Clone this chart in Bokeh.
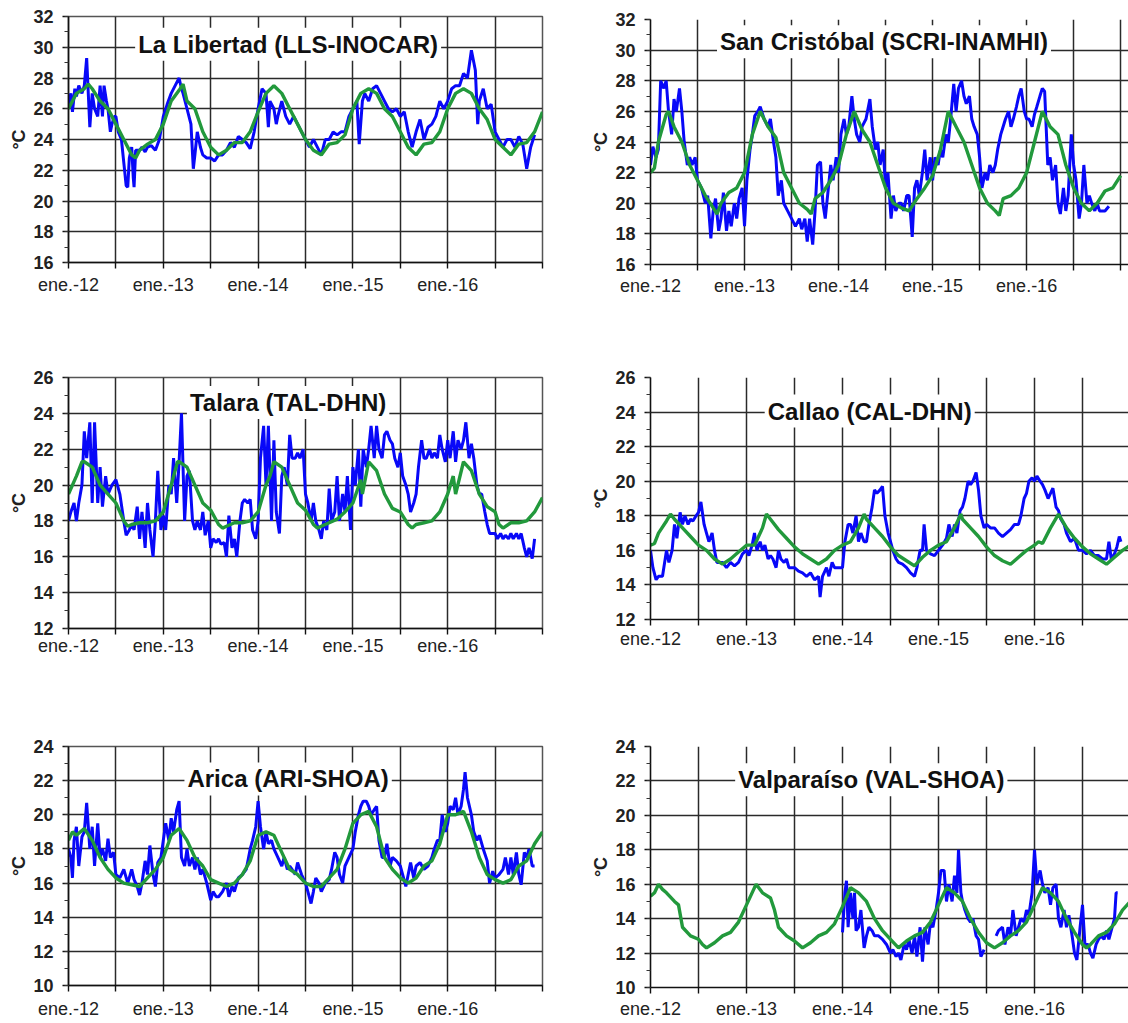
import numpy as np
from bokeh.plotting import figure
from bokeh.models import Range1d, FixedTicker, SingleIntervalTicker, Label
from bokeh.layouts import column, row
from bokeh.embed import file_html
from bokeh.resources import INLINE

# x = months since January 2012
MONTH_TICKS = list(range(0, 61, 6))
YEAR_LABELS = {0: "ene.-12", 12: "ene.-13", 24: "ene.-14", 36: "ene.-15", 48: "ene.-16"}
TITLES = ["La Libertad (LLS-INOCAR)", "San Cristóbal (SCRI-INAMHI)", "Talara (TAL-DHN)",
          "Callao (CAL-DHN)", "Arica (ARI-SHOA)", "Valparaíso (VAL-SHOA)"]
Y_LIMITS = [(16, 32), (16, 32), (12, 26), (12, 26), (10, 24), (10, 24)]

# ---------------- La Libertad ----------------
LIB_OBS = [(0,26.3),(0.3,27),(0.5,25.8),(0.8,27.3),(1,26.8),(1.3,27.5),(1.7,27),(2,27.5),(2.3,29.3),(2.7,24.8),
 (3,27),(3.3,26),(3.7,25.5),(4,27.5),(4.3,25.5),(4.5,27.5),(4.8,26.5),(5,26),(5.3,24.5),(5.5,25),(5.8,25.5),
 (6,25.5),(6.3,24.5),(6.7,24),(7,22.5),(7.3,21),(7.5,20.9),(7.7,22.8),(8,23.5),(8.2,21.5),(8.3,20.9),(8.5,23.3),
 (9,23.3),(9.3,23.5),(9.7,23.2),(10,23.5),(10.5,23.6),(11,23.3),(11.5,24),(12,25.5),(12.5,26.3),(13,27),
 (13.5,27.5),(14,28),(14.3,27.3),(14.5,27),(15,26),(15.5,25),(15.8,22.1),(16,23),(16.3,24.5),(16.7,23.5),
 (17,23),(17.5,22.8),(18,22.8),(18.5,22.6),(19,23),(19.5,23),(20,23.3),(20.5,23.8),(21,23.5),(21.5,24.2),
 (22,24),(22.5,23.8),(23,23.4),(23.5,24.5),(24,26),(24.5,27.3),(25,27),(25.3,24.8),(25.5,26.5),(26,26),
 (26.3,25),(26.5,25.5),(27,26.5),(27.5,25.5),(28,25),(28.5,25.5),(29,25),(29.5,24.5),(30,24),(30.5,23.5),
 (31,24),(31.5,23.5),(32,23),(32.5,24),(33,24),(33.5,24.5),(34,24.3),(34.5,24.5),(35,24.5),(35.5,25.5),
 (36,26),(36.5,26.5),(36.8,23.7),(37.2,26.5),(37.5,27),(38,26.5),(38.5,27.3),(39,27.5),(39.5,27),(40,26.5),
 (40.5,26),(41,25.8),(41.5,26),(42,25.5),(42.5,25.8),(43,24.5),(43.5,23.5),(44,24.5),(44.5,25.3),(45,24),
 (45.5,24.8),(46,25),(46.5,25.5),(47,26.5),(47.5,26),(48,26.5),(48.5,27.3),(49,27.5),(49.5,27.5),(50,28.3),
 (50.5,28),(51,29.8),(51.5,28.5),(51.8,25),(52,26.5),(52.5,27.3),(53,26),(53.5,26.3),(54,24.5),(54.5,24),
 (55,23.5),(55.5,24),(56,24),(56.5,23.5),(57,24.2),(57.5,23.7),(58,22.1),(58.5,23.5),(59,24.3)]
LIB_CLIM = [(0,26),(1,27),(2,27.3),(2.5,27.6),(3,27.3),(4,26.5),(5,26),(6,25),(7,24),(8,23),(8.5,22.8),(9,23.3),
 (10,23.7),(11,24),(12,25),(13,26.5),(14,27.2),(14.5,27.6),(15,26.5),(16,26),(17,24.5),(18,23.5),(19,23),
 (20,23.3),(21,23.8),(22,23.8),(23,24.5),(24,25.8),(25,27),(26,27.5),(27,27),(28,26),(29,25),(30,24),
 (31,23.3),(32,23),(33,23.7),(34,23.8),(35,24.3),(36,26),(37,27),(38,27.3),(39,27),(40,26),(41,25.5),
 (42,24.5),(43,23.5),(44,23),(45,23.7),(46,23.8),(47,24.5),(48,26),(49,27),(50,27.3),(51,27),(52,26),
 (53,25.3),(54,24),(55,23.5),(56,23),(57,23.7),(58,23.8),(59,24.5),(60,25.8)]

# ---------------- San Cristóbal ----------------
SCR_OBS = [(0,22.5),(0.3,23.7),(0.7,23),(1,23.5),(1.3,28),(1.7,27.5),(2,28),(2.3,26),(2.7,24.5),(3,26.8),
 (3.3,26),(3.7,27.5),(4,26),(4.3,24),(4.7,22.5),(5,23),(5.3,22.5),(5.7,23),(6,21.5),(6.5,21),(7,20),(7.3,20.5),
 (7.7,17.7),(8,19.5),(8.3,20.3),(8.7,18.2),(9,19),(9.3,20.7),(9.7,18.2),(10,19.5),(10.3,18.5),(10.7,20),(11,19),
 (11.3,20.3),(11.7,21),(12,18.5),(12.3,21.5),(12.7,23.5),(13,24.5),(13.3,25.7),(13.7,26),(14,26.3),(14.5,25.5),
 (15,25),(15.3,25.5),(15.7,24),(16,23),(16.3,20.5),(16.7,21.5),(17,20),(17.5,19.5),(18,19),(18.5,18.5),(19,19),
 (19.3,18.3),(19.7,19),(20,17.5),(20.3,19),(20.7,17.3),(21,19.5),(21.3,22.5),(21.7,22.7),(22,20),(22.3,19),
 (22.7,21),(23,22.5),(23.3,21.5),(23.7,23),(24,22),(24.3,24.5),(24.7,25.5),(25,24.5),(25.3,25),(25.7,27),
 (26,25.5),(26.3,24.5),(26.7,24),(27,25),(27.5,25.5),(28,26.8),(28.3,25),(28.7,23.5),(29,24),(29.3,22.5),
 (29.7,23.5),(30,21),(30.3,22),(30.7,19),(31,20.5),(31.3,19.5),(31.7,20),(32,20),(32.3,19.5),(32.7,20.5),
 (33,20.5),(33.4,17.8),(33.7,21),(34,21.5),(34.3,20.5),(34.7,22),(35,23.5),(35.3,21.5),(35.7,23),(36,21.5),
 (36.3,23),(36.7,22.5),(37,23.5),(37.3,23),(37.7,24.5),(38,24),(38.3,25.5),(38.7,27.8),(39,26),(39.3,27.5),
 (39.7,28),(40,27),(40.3,26.5),(40.7,27),(41,25.5),(41.3,25),(41.7,24.5),(42,23),(42.3,21),(42.7,22),(43,21.5),
 (43.3,22.5),(43.7,22),(44,22.5),(44.3,23.5),(44.7,24.5),(45,25),(45.3,25.5),(45.7,26),(46,25),(46.3,25.5),
 (46.7,26.3),(47,27),(47.3,27.5),(47.7,26),(48,25.5),(48.3,25.5),(48.7,25),(49,25.8),(49.3,26.3),(49.7,27),
 (50,27.5),(50.3,27.3),(50.7,22.5),(51,23),(51.3,21.5),(51.7,22.5),(52,20),(52.3,19.3),(52.7,21),(53,19.5),
 (53.3,20.5),(53.7,24.5),(54,22.5),(54.3,21.5),(54.7,19),(55,20),(55.3,22.5),(55.7,20),(56,20.5),(56.3,20),
 (56.7,19.5),(57,20),(57.3,19.5),(57.7,19.5),(58,19.5),(58.5,19.8)]
SCR_CLIM = [(0,22),(0.5,22.3),(1,24),(2,25.8),(2.3,26),(3,25),(4,24),(5,22.5),(6,21.5),(7,20.5),(8,19.7),
 (8.5,19.3),(9,20),(10,20.7),(11,21),(12,22),(13,24.5),(14,26),(15,25),(16,24.3),(17,22),(18,21),(19,20),
 (20,19.6),(20.5,19.3),(21,20.3),(22,20.7),(23,21.5),(24,22.5),(25,24.5),(26,26),(27,24.8),(28,24),(29,22.5),
 (30,21),(31,20),(32,19.7),(33,19.5),(34,20.3),(35,21),(36,21.8),(37,23.5),(38,26),(39,25),(40,24),(41,22.5),
 (42,21),(43,20),(44,19.5),(44.5,19.2),(45,20.3),(46,20.5),(47,21),(48,22),(49,24),(50,26),(51,25),(52,24.5),
 (53,22.5),(54,21),(55,20),(56,19.5),(57,20),(58,20.8),(59,21),(60,21.8)]

# ---------------- Talara ----------------
TAL_OBS = [(0,18),(0.3,18.5),(0.7,19),(1,18),(1.3,19),(1.7,20),(2,23),(2.3,21.5),(2.7,23.5),(3,19),(3.3,23.5),
 (3.7,19),(4,21),(4.3,18.8),(4.7,20.5),(5,19.5),(5.5,20),(6,20.3),(6.5,19.5),(7,18),(7.3,17.2),(7.7,17.5),
 (8,17.8),(8.3,17.5),(8.7,18.8),(9,17),(9.3,18.5),(9.7,16.5),(10,19),(10.3,17.5),(10.7,16),(11,18),(11.3,20.8),
 (11.7,17.5),(12,18.3),(12.3,17.5),(12.7,20),(13,19.5),(13.3,21.5),(13.7,19),(14,21.3),(14.3,24),(14.7,18),
 (15,20.5),(15.3,20.8),(15.7,18),(16,17.5),(16.3,18),(16.7,17.5),(17,18.5),(17.3,17.2),(17.7,18),(18,16.5),
 (18.3,17),(18.7,16.8),(19,17),(19.3,16.7),(19.7,16.8),(20,16),(20.3,18.3),(20.7,16.5),(21,17),(21.3,16),
 (21.7,18),(22,19),(22.3,19.2),(22.7,19),(23,19.2),(23.3,17.5),(23.7,17),(24,18),(24.3,21.5),(24.7,23.3),
 (25,20),(25.3,23.3),(25.7,18),(26,22.5),(26.3,18.5),(26.7,17.3),(27,20.5),(27.3,21),(27.7,20),(28,22.8),
 (28.3,21.5),(28.7,21.5),(29,21.8),(29.3,21.5),(29.7,22),(30,19.5),(30.3,19),(30.7,18),(31,19),(31.3,18),
 (31.7,17.5),(32,17),(32.3,18),(32.7,17.5),(33,19.8),(33.3,18),(33.7,18.5),(34,20.5),(34.3,18),(34.7,19.5),
 (35,18.5),(35.3,20.5),(35.7,17.5),(36,21),(36.3,20),(36.7,22),(37,18.8),(37.3,22),(37.7,21),(38,22),
 (38.3,23.3),(38.7,21.5),(39,23.3),(39.3,22),(39.7,21.5),(40,22.8),(40.3,23),(40.7,22.5),(41,22.3),(41.3,21.5),
 (41.7,21),(42,21.8),(42.3,20.5),(42.7,20),(43,19.5),(43.3,18.5),(43.7,19),(44,19.5),(44.3,21),(44.7,22.5),
 (45,21.5),(45.3,21.5),(45.7,22),(46,21.5),(46.3,21.8),(46.7,21.5),(47,22.8),(47.3,22),(47.7,21.3),(48,22.5),
 (48.3,21.5),(48.7,23),(49,21.3),(49.3,22.5),(49.7,22),(50,22.5),(50.3,23.5),(50.7,21.5),(51,22.3),(51.3,21.5),
 (51.7,20),(52,19.5),(52.3,19.5),(52.7,18.5),(53,17.8),(53.3,17.3),(53.7,17.3),(54,17.3),(54.3,17),(54.7,17.3),
 (55,17),(55.3,17.2),(55.7,17),(56,17.3),(56.3,17),(56.7,17.3),(57,17),(57.3,17.3),(57.7,16.5),(58,16),
 (58.3,16.5),(58.7,15.9),(59,17)]
TAL_CLIM = [(0,19.5),(1,20.5),(1.7,21.3),(2,21.3),(3,21),(4,20),(5,19.5),(6,19),(7,18),(7.5,17.7),(8,17.8),
 (9,17.9),(10,17.9),(11,18),(12,18.5),(13,20),(13.8,21.3),(14,21.3),(15,21),(16,20),(17,19),(18,18.6),
 (19,17.8),(19.5,17.6),(20,17.7),(21,17.9),(22,17.9),(23,18),(24,18.5),(25,20),(25.5,20.5),(26,21.3),(27,21),
 (28,20),(29,19),(30,18.6),(31,17.8),(31.5,17.6),(32,17.7),(33,17.9),(34,18.1),(35,18.5),(36,19),(37,20.3),
 (37.2,19.5),(38,21.3),(39,20.8),(40,19.5),(41,18.7),(42,18.5),(43,17.8),(43.5,17.6),(44,17.8),(45,17.9),
 (46,18),(47,18.5),(48,19.5),(48.7,20.5),(49,19.5),(50,21.3),(51,20.8),(52,19.5),(53,18.8),(54,18.5),
 (54.5,17.8),(55,17.6),(56,17.9),(57,17.9),(58,18),(59,18.5),(60,19.3)]

# ---------------- Callao ----------------
CAL_OBS = [(0,16),(0.3,15),(0.7,14.3),(1,14.5),(1.5,14.5),(2,16),(2.3,15.3),(2.7,16),(3,17.5),(3.3,16.7),
 (3.7,18.2),(4,17.5),(4.3,18),(4.7,17.5),(5,17.8),(5.3,17.7),(5.7,18),(6,18.2),(6.3,18.8),(6.7,17.5),(7,17),
 (7.3,16.5),(7.7,17),(8,16),(8.3,15.3),(8.7,15.3),(9,15.3),(9.5,15),(10,15.3),(10.5,15.1),(11,15.3),(11.5,15.8),
 (12,16),(12.3,15.7),(12.7,16.3),(13,17),(13.3,16),(13.7,16.5),(14,16),(14.3,16.3),(14.7,15.5),(15,15.7),
 (15.3,15.5),(15.7,15),(16,16),(16.3,15.5),(16.7,15.3),(17,15.5),(17.3,15),(17.7,15),(18,15),(18.5,14.8),
 (19,14.7),(19.5,14.5),(20,14.7),(20.5,14.3),(21,14.5),(21.2,13.3),(21.5,14.5),(22,15),(22.3,14.5),(22.7,15.3),
 (23,15),(23.5,15),(24,15),(24.3,16.5),(24.7,17.5),(25,17.5),(25.3,17),(25.7,18),(26,16.5),(26.3,17),
 (26.7,16.5),(27,16.5),(27.3,17.5),(27.7,18.5),(28,19.5),(28.3,19.3),(28.7,19.5),(29,19.7),(29.3,18),(29.7,17),
 (30,16.5),(30.3,16),(30.7,15.5),(31,15.3),(31.5,15.2),(32,15),(32.5,14.7),(33,14.5),(33.3,15),(33.7,16),
 (34,16),(34.2,17.5),(34.5,16),(35,15.8),(35.5,15.7),(36,16),(36.5,16.3),(37,16.7),(37.3,17.5),(37.7,16.8),
 (38,17.5),(38.3,17),(38.7,18.3),(39,18.5),(39.3,19),(39.7,20),(40,19.8),(40.3,20),(40.7,20.5),(41,19.5),
 (41.3,18),(41.7,17.3),(42,17.5),(42.5,17.3),(43,17.3),(43.5,17),(44,16.8),(44.5,17),(45,17.2),(45.5,17.5),
 (46,17.5),(46.3,18),(46.7,19),(47,19.3),(47.3,20),(47.7,20.2),(48,20),(48.3,20.3),(48.7,20),(49,19.8),
 (49.3,19.5),(49.7,19),(50,19.3),(50.3,19.6),(50.7,18.5),(51,18.3),(51.3,17.8),(51.7,17.5),(52,17),(52.5,16.5),
 (53,16.7),(53.5,16),(54,16),(54.5,15.8),(55,16),(55.5,15.7),(56,15.7),(56.5,15.5),(57,15.5),(57.3,16.5),
 (57.6,15.5),(58,15.8),(58.3,16.2),(58.6,16.8),(58.8,16.5)]
CAL_CLIM = [(0,16.3),(0.5,16.4),(1,17),(2,17.7),(2.5,18.1),(3,17.8),(4,17.3),(5,16.8),(6,16.3),(7,16),(8,15.5),
 (9,15.2),(10,15.5),(11,15.9),(12,16.3),(13,16.3),(14,17.3),(14.5,18.1),(15,17.8),(16,17.2),(17,16.7),(18,16.2),
 (19,15.8),(20,15.5),(21,15.2),(22,15.5),(23,16),(24,16.3),(25,16.5),(26,17.3),(26.7,18.1),(27,17.8),(28,17.3),
 (29,16.8),(30,16.2),(31,15.7),(32,15.4),(33,15.1),(34,15.6),(35,16),(36,16.3),(37,16.5),(38,17.3),(38.8,18.1),
 (39,17.8),(40,17.3),(41,16.8),(42,16.2),(43,15.7),(44,15.4),(45,15.2),(46,15.6),(47,16),(48,16.3),(48.5,16.5),
 (49,16.4),(50,17.3),(51,18.1),(52,17.3),(53,16.7),(54,16.2),(55,15.8),(56,15.5),(57,15.2),(58,15.6),(59,16),
 (60,16.3)]

# ---------------- Arica ----------------
ARI_OBS = [(0,18),(0.3,17.5),(0.5,16.3),(0.7,18.5),(1,19.3),(1.3,17),(1.7,18.7),(2,19),(2.3,20.7),(2.7,18),
 (3,19.3),(3.3,17),(3.7,19.5),(4,17.5),(4.3,18),(4.7,17.3),(5,18.6),(5.3,17.5),(5.7,17.8),(6,16.5),(6.5,16.3),
 (7,16.8),(7.5,16),(8,16.8),(8.3,16.2),(8.7,15.8),(9,15.3),(9.3,16),(9.7,17.3),(10,16.5),(10.3,18.2),(10.7,16.5),
 (11,15.8),(11.3,17.2),(11.7,17.5),(12,18.5),(12.3,19.5),(12.7,18.5),(13,19.8),(13.3,19),(13.7,20.3),(14,20.8),
 (14.3,17.5),(14.7,17),(15,18),(15.3,17),(15.7,17.5),(16,16.8),(16.3,17.5),(16.7,16.5),(17,16.8),(17.5,16),
 (18,15),(18.3,15.5),(18.7,15.2),(19,15.2),(19.5,15.5),(20,16),(20.3,15.2),(20.7,15.8),(21,15.5),(21.5,16.3),
 (22,16.5),(22.5,16.8),(23,18),(23.3,18.5),(23.7,19.3),(24,20.8),(24.3,19.3),(24.7,18),(25,19),(25.3,18.3),
 (25.7,18.5),(26,18),(26.5,17.5),(27,17),(27.3,17.5),(27.7,16.8),(28,17),(28.3,16.8),(28.7,16.5),(29,17.2),
 (29.5,16.5),(30,16),(30.3,15.5),(30.7,14.8),(31,15.5),(31.3,16.3),(31.7,16),(32,15.5),(32.5,16),(33,16.2),
 (33.3,16.8),(33.7,17.8),(34,17.5),(34.3,16.5),(34.7,16),(35,17),(35.5,17.5),(36,18),(36.3,19),(36.7,20),
 (37,20.5),(37.3,20.8),(37.7,20.8),(38,20.5),(38.3,20),(38.7,20.3),(39,20.5),(39.3,18.5),(39.7,17.5),(40,17.5),
 (40.3,18.3),(40.7,17),(41,17.5),(41.5,17.3),(42,17),(42.3,16.5),(42.7,15.8),(43,16.5),(43.3,17.2),(43.7,16.3),
 (44,17),(44.5,17.2),(45,16.8),(45.5,17),(46,17.5),(46.3,18),(46.7,18.5),(47,18.5),(47.3,20),(47.7,19),
 (48,19.5),(48.3,20.5),(48.7,20.3),(49,21),(49.3,20),(49.7,20.5),(50,21.5),(50.2,22.5),(50.5,21),(51,20),
 (51.3,19),(51.7,18.5),(52,18.8),(52.5,18),(53,17.3),(53.3,16),(53.7,16.7),(54,16.3),(54.5,16.5),(55,16.8),
 (55.3,17.5),(55.7,16.5),(56,17.5),(56.3,16.5),(56.7,17.8),(57,16.5),(57.3,15.9),(57.7,17.8),(58,17.5),
 (58.3,18),(58.7,17),(59,17)]
ARI_CLIM = [(0,18.5),(0.5,19),(1,18.8),(2,19.2),(3,18.5),(4,17.5),(5,16.8),(6,16.3),(7,16),(8,15.9),(9,15.8),
 (10,16.3),(11,16.8),(12,17.5),(13,18.8),(14,19.2),(15,18.5),(16,17.5),(17,17),(18,16.2),(19,16),(20,15.8),
 (21,16),(22,16.5),(23,17.3),(24,18.8),(25,19),(26,18.8),(27,17.8),(28,16.8),(29,16.5),(30,16),(31,15.8),
 (32,15.8),(33,16.3),(34,16.8),(35,18),(36,19.5),(37,20),(38,20.2),(39,19.3),(40,17.5),(41,16.8),(42,16.3),
 (43,16),(44,16.3),(45,17),(46,17.3),(47,18.3),(48,20),(49,20),(50,20.2),(51,19),(52,17.5),(53,16.5),(54,16.2),
 (55,16),(56,16.2),(57,17),(58,17.3),(59,18.3),(60,19)]

# ---------------- Valparaíso ----------------
VAL_OBS = [(24,13.2),(24.3,15.5),(24.5,16.2),(24.7,13.5),(25,15.5),(25.3,14),(25.5,15.5),(25.7,13.3),(26,13.5),
 (26.3,14.5),(26.7,12.3),(27,13),(27.3,13.5),(27.7,13.3),(28,13),(28.5,13),(29,12.8),(29.5,12.5),(30,12),
 (30.3,12.2),(30.7,11.8),(31,12),(31.3,11.6),(31.7,12.5),(32,12.2),(32.3,12.8),(32.7,12),(33,13),(33.3,11.8),
 (33.7,13.5),(34,11.5),(34.3,13.5),(34.7,12.5),(35,13.8),(35.3,13.5),(35.7,14.5),(36,15.5),(36.3,16.8),
 (36.7,16.8),(37,15),(37.3,16),(37.7,15),(38,16.5),(38.3,15.5),(38.5,18),(38.8,15.5),(39,15),(39.3,14.5),
 (39.7,14),(40,13.8),(40.3,14),(40.7,13),(41,12.8),(41.3,11.8),(41.7,12.2),(42.5,None),(43.2,13),(43.5,13.3),
 (44,13.5),(44.3,12.5),(44.7,13.5),(45,13),(45.3,14.5),(45.7,13),(46,13.5),(46.3,14),(46.7,13.8),(47,14.5),
 (47.3,14.2),(47.7,15.5),(48,18),(48.3,16),(48.7,16.8),(49,16),(49.3,15.5),(49.7,15.8),(50,14.8),(50.3,15.8),
 (50.7,16),(51,14),(51.3,13.5),(51.7,14.5),(52,13.5),(52.3,14.2),(52.7,13),(53,12),(53.3,11.6),(53.7,13.5),
 (54,14.8),(54.3,12.5),(54.7,12.5),(55,12),(55.3,11.7),(55.7,12.5),(56,12.8),(56.3,13),(56.7,12.8),(57,13.3),
 (57.3,12.8),(57.7,13.5),(58,14),(58.2,15.5),(58.4,15.5)]
VAL_CLIM = [(0,15.3),(0.5,15.5),(1,16),(1.5,15.7),(2,15.5),(3,15),(3.5,14.8),(4,13.5),(5,13),(6,12.8),(6.5,12.5),
 (7,12.3),(8,12.6),(9,13),(10,13.2),(11,13.8),(12,14.8),(13,15.8),(13.2,16),(14,15.5),(15,15.2),(15.5,14.5),
 (16,13.5),(17,13),(18,12.7),(19,12.3),(20,12.6),(21,13),(22,13.2),(23,13.7),(24,14.7),(25,15.8),(26,15.5),
 (27,15),(28,14),(29,13.3),(30,12.8),(31,12.3),(32,12.7),(33,13),(34,13.2),(35,13.8),(36,14.8),(37,15.8),
 (38,15.5),(39,15),(40,14),(41,13.2),(42,12.6),(43,12.3),(44,12.6),(45,13),(46,13.3),(47,13.8),(48,14.8),
 (49,15.8),(50,15.5),(51,15),(52,14),(53,13.2),(54,12.5),(54.5,12.3),(55,12.5),(56,13),(57,13.2),(58,13.7),
 (59,14.5),(60,15)]

OBS = [LIB_OBS, SCR_OBS, TAL_OBS, CAL_OBS, ARI_OBS, VAL_OBS]
CLIM = [LIB_CLIM, SCR_CLIM, TAL_CLIM, CAL_CLIM, ARI_CLIM, VAL_CLIM]

BLUE = "#0808f8"
GREEN = "#22993c"
FONT = "Liberation Sans"

# layout: (frame_w, frame_h, border_left, border_right, border_top, border_bottom,
#          x_end, outline, title_x, title_y, x_label_standoff)
LAYOUT = [
    (474, 246, 68, 18, 16, 78, 60, True, 27.8, 30.2, 6),
    (478, 245, 90, 0, 19, 76, 61.0, False, 29.8, 30.55, 5),
    (474, 251, 68, 18, 37, 77, 60, True, 27.8, 24.6, 1),
    (478, 242, 90, 0, 37, 86, 59.75, False, 27.4, 24.06, 3),
    (474, 239, 68, 18, 41, 38, 60, True, 27.8, 22.1, 7),
    (478, 241, 90, 0, 41, 36, 59.75, False, 27.6, 22.07, 5),
]


def split(pairs):
    t = np.array([p[0] for p in pairs], dtype=float)
    v = np.array([np.nan if p[1] is None else p[1] for p in pairs], dtype=float)
    return t, v


def panel(i):
    fw, fh, bl, br, bt, bb, xend, outline, tx, ty, xso = LAYOUT[i]
    ylo, yhi = Y_LIMITS[i]
    p = figure(width=fw + bl + br, height=fh + bt + bb, output_backend="svg", toolbar_location=None,
               x_range=Range1d(0, xend), y_range=Range1d(ylo, yhi),
               min_border_left=bl, min_border_right=br, min_border_top=bt, min_border_bottom=bb)
    p.background_fill_color = "white"
    p.border_fill_color = "white"
    p.outline_line_color = "#555555" if outline else None
    p.outline_line_width = 1.5

    xt = FixedTicker(ticks=MONTH_TICKS, minor_ticks=[])
    p.xaxis.ticker = xt
    p.xgrid.ticker = xt
    p.xaxis.major_label_overrides = {t: YEAR_LABELS.get(t, "") for t in MONTH_TICKS}
    p.yaxis.ticker = SingleIntervalTicker(interval=2, num_minor_ticks=2)

    for ax in (p.xaxis[0], p.yaxis[0]):
        ax.axis_line_color = "#111111"
        ax.axis_line_width = 1.6
        ax.major_tick_line_color = "#111111"
        ax.major_tick_line_width = 1.4
        ax.major_tick_in = 0
        ax.major_tick_out = 6
        ax.major_label_text_font = FONT
        ax.major_label_text_color = "#222222"
    p.xaxis.minor_tick_line_color = None
    p.xaxis.major_label_text_font_size = "18px"
    p.xaxis.major_label_standoff = xso
    p.yaxis.minor_tick_in = 0
    p.yaxis.minor_tick_out = 4
    p.yaxis.minor_tick_line_color = "#333333"
    p.yaxis.minor_tick_line_width = 1.2
    p.yaxis.major_label_text_font_size = "18px"
    p.yaxis.major_label_text_font_style = "bold"
    p.yaxis.major_label_standoff = 9
    p.yaxis.axis_label = "°C"
    p.yaxis.axis_label_text_font = FONT
    p.yaxis.axis_label_text_font_size = "18px"
    p.yaxis.axis_label_text_font_style = "bold"
    p.yaxis.axis_label_text_color = "#222222"
    p.yaxis.axis_label_standoff = 1

    for g in (p.xgrid[0], p.ygrid[0]):
        g.grid_line_color = "#2a2a2a"
        g.grid_line_width = 1.5

    ct, cv = split(CLIM[i])
    ot, ov = split(OBS[i])
    p.line(ot, ov, line_color=BLUE, line_width=3)
    p.line(ct, cv, line_color=GREEN, line_width=3.4)

    p.add_layout(Label(x=tx, y=ty, text=TITLES[i], text_align="center", text_baseline="middle",
                       text_font=FONT, text_font_style="bold", text_font_size="24px",
                       text_color="#111111", background_fill_color="white", padding=3))
    return p


panels = [panel(i) for i in range(6)]
layout = row(column(panels[0], panels[2], panels[4]), column(panels[1], panels[3], panels[5]))
open("out.html", "w").write(file_html(layout, INLINE))
